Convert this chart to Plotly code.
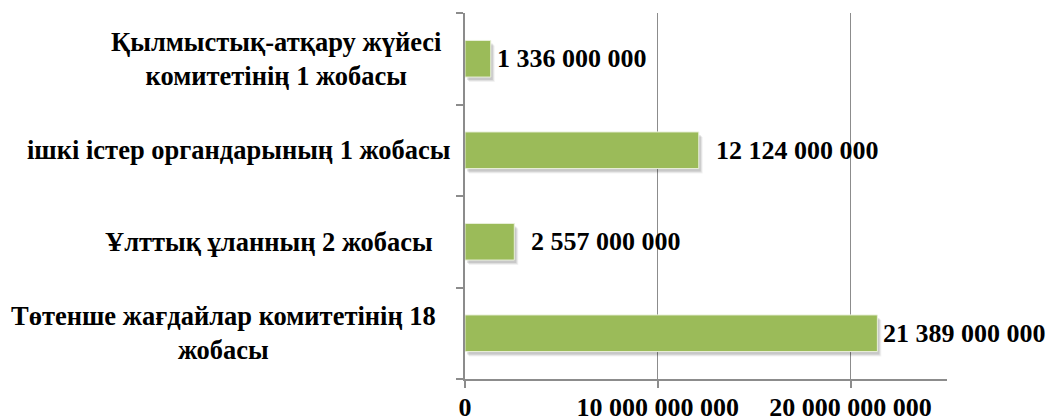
import plotly.graph_objects as go

categories = [
    "Қылмыстық-атқару жүйесі<br>комитетінің 1 жобасы",
    "ішкі істер органдарының 1 жобасы",
    "Ұлттық ұланның 2 жобасы",
    "Төтенше жағдайлар комитетінің 18<br>жобасы",
]
values = [1336000000, 12124000000, 2557000000, 21389000000]
x_ticks = [0, 10000000000, 20000000000]
x_max = 25000000000

def fmt(v):
    return f"{v:,}".replace(",", " ")

value_labels = [fmt(v) for v in values]
tick_labels = [fmt(t) for t in x_ticks]

FONT = "Liberation Serif, Times New Roman, serif"
BAR = "#9BBB59"
GRID = "#8C8C8C"

# page body has an 8px default margin
W, H = 1046, 420
L, T = 457, 5
plot_w = 482.5
plot_h = 366.0
R = W - L - plot_w
B = H - T - plot_h

px_x = x_max / plot_w
n = len(categories)
px_y = n / plot_h

cat_array = categories[::-1]  # bottom first so first category is on top

fig = go.Figure()

shadow_layers = [(2, 3, 0.10), (3, 4, 0.08), (4, 5, 0.05)]
axis_names = []
for k, (sx, sy, a) in enumerate(shadow_layers):
    xa = "x" if k == 0 else f"x{k + 1}"
    ya = "y" if k == 0 else f"y{k + 1}"
    axis_names.append((xa, ya, sx, sy))
    fig.add_trace(go.Bar(
        y=categories, x=values, orientation="h",
        marker=dict(color=f"rgba(0,0,0,{a})", line=dict(width=0)),
        hoverinfo="skip", showlegend=False,
        xaxis=xa, yaxis=ya,
    ))

main_idx = len(shadow_layers) + 1
mx, my = f"x{main_idx}", f"y{main_idx}"
fig.add_trace(go.Bar(
    y=categories, x=values, orientation="h",
    marker=dict(color=BAR, line=dict(color="#E9F0DA", width=1)),
    showlegend=False,
    xaxis=mx, yaxis=my,
))

layout = dict(
    width=W, height=H,
    margin=dict(l=L, r=R, t=T, b=B, autoexpand=False),
    paper_bgcolor="white", plot_bgcolor="white",
    bargap=0.6,
)
for k, (xa, ya, sx, sy) in enumerate(axis_names):
    xk = "xaxis" if k == 0 else f"xaxis{k + 1}"
    yk = "yaxis" if k == 0 else f"yaxis{k + 1}"
    xd = dict(range=[-sx * px_x, x_max - sx * px_x], visible=False, showgrid=False)
    yd = dict(type="category", categoryorder="array", categoryarray=cat_array,
              range=[-0.5 + sy * px_y, n - 0.5 + sy * px_y], visible=False, showgrid=False)
    if k > 0:
        xd["overlaying"] = "x"
        yd["overlaying"] = "y"
        xd["anchor"] = ya
        yd["anchor"] = xa
    layout[xk] = xd
    layout[yk] = yd

layout[f"xaxis{main_idx}"] = dict(
    overlaying="x", range=[0, x_max],
    tickvals=x_ticks, ticktext=tick_labels,
    showgrid=True, gridcolor=GRID, gridwidth=1,
    showline=True, linecolor=GRID, linewidth=1.5,
    ticks="outside", ticklen=4, tickcolor=GRID, tickwidth=1.5,
    minor=dict(tickvals=x_ticks, ticks="outside", ticklen=7,
               tickcolor=GRID, tickwidth=1.5, showgrid=False),
    ticklabelstandoff=0, automargin=False,
    tickfont=dict(family=FONT, size=26, color="black", weight="bold"),
    zeroline=False, anchor=my,
)
layout[f"yaxis{main_idx}"] = dict(
    overlaying="y", type="category", categoryorder="array", categoryarray=cat_array,
    range=[-0.5, n - 0.5], automargin=False,
    showticklabels=False, showgrid=False,
    showline=True, linecolor=GRID, linewidth=1.5,
    ticks="outside", ticklen=7, tickcolor=GRID, tickwidth=1.5,
    tickson="boundaries", zeroline=False, anchor=mx,
)
fig.update_layout(**layout)

# category labels
label_shift = [-22, -13, -30, -27]
for i, c in enumerate(categories):
    fig.add_annotation(
        xref="paper", x=0, yref=my, y=c,
        text=c, showarrow=False, xanchor="right", yanchor="middle",
        align="center", xshift=label_shift[i],
        font=dict(family=FONT, size=26.5, color="black", weight="bold"),
    )

# data labels
value_shift = [4, 15, 15, 4]
for i, c in enumerate(categories):
    fig.add_annotation(
        xref=mx, x=values[i], yref=my, y=c,
        text=value_labels[i], showarrow=False, xanchor="left", yanchor="middle",
        xshift=value_shift[i],
        font=dict(family=FONT, size=26, color="black", weight="bold"),
    )

fig.write_html("out.html")
